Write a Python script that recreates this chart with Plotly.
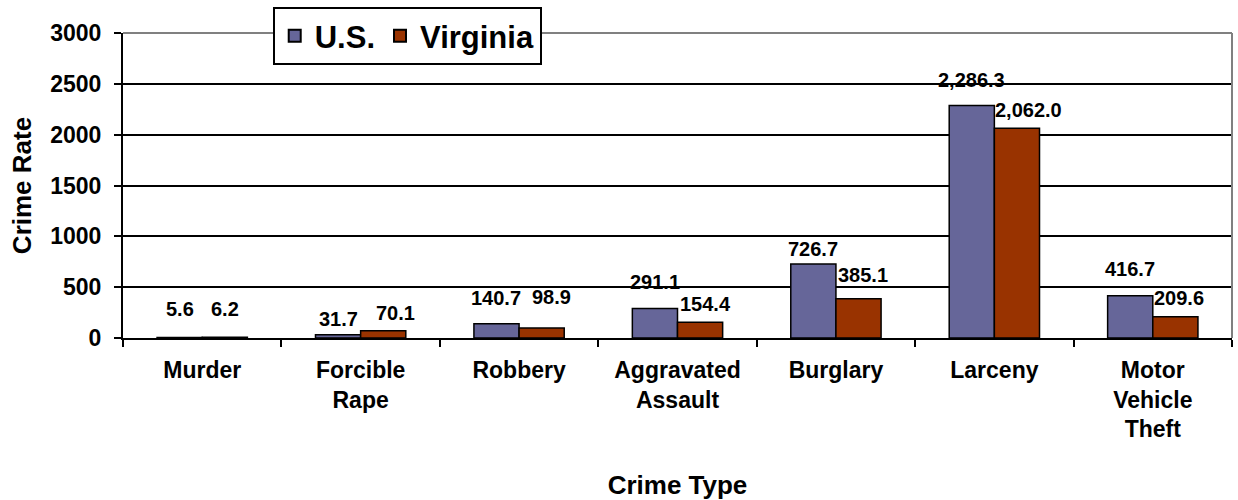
import plotly.graph_objects as go

categories = ["Murder", "Forcible<br>Rape", "Robbery", "Aggravated<br>Assault",
              "Burglary", "Larceny", "Motor<br>Vehicle<br>Theft"]
us_rates = [5.6, 31.7, 140.7, 291.1, 726.7, 2286.3, 416.7]
virginia_rates = [6.2, 70.1, 98.9, 154.4, 385.1, 2062.0, 209.6]
y_ticks = [0, 500, 1000, 1500, 2000, 2500, 3000]

# per-label nudges (pixels) so neighbouring value labels don't collide
us_label_dx = [0, 0, 0, 0, 0, 0, 0]
us_label_dy = [15, 3, 13, 13, 2, 13, 14]
va_label_dx = [0, 12, 10, 5, 4, 12, 4]
va_label_dy = [15, 5, 18, 5, 11, 5, 6]

FONT = "Liberation Sans, Arial, sans-serif"
BOLD_BLACK = dict(family=FONT, color="black", weight="bold")

# plot area geometry (pixels) used to place value labels over each bar
WIDTH, HEIGHT = 1238, 500
M_L, M_R, M_T, M_B = 123, 6, 33, 162
BARGAP = 0.43
cat_px = (WIDTH - M_L - M_R) / len(categories)
bar_px = cat_px * (1 - BARGAP) / 2

fig = go.Figure()
fig.add_trace(go.Bar(
    name="U.S.", x=categories, y=us_rates,
    marker=dict(color="#666699", line=dict(color="black", width=1.5)),
))
fig.add_trace(go.Bar(
    name="Virginia", x=categories, y=virginia_rates,
    marker=dict(color="#993300", line=dict(color="black", width=1.5)),
))

# value labels above each bar
annotations = []
for series, offset, dxs, dys in ((us_rates, -bar_px / 2, us_label_dx, us_label_dy),
                                 (virginia_rates, bar_px / 2, va_label_dx, va_label_dy)):
    for cat, val, dx, dy in zip(categories, series, dxs, dys):
        annotations.append(dict(
            x=cat, y=val, xref="x", yref="y", text=f"{val:,.1f}",
            showarrow=False, xanchor="center", yanchor="bottom",
            xshift=offset + dx, yshift=dy,
            font=dict(BOLD_BLACK, size=20),
        ))

fig.update_layout(
    width=WIDTH, height=HEIGHT,
    margin=dict(l=M_L, r=M_R, t=M_T, b=M_B),
    paper_bgcolor="white", plot_bgcolor="white",
    barmode="group", bargap=BARGAP, bargroupgap=0,
    font=dict(family=FONT, color="black"),
    showlegend=True,
    legend=dict(
        orientation="h", x=0.135, y=1.085, xanchor="left", yanchor="top",
        bgcolor="white", bordercolor="black", borderwidth=2,
        font=dict(BOLD_BLACK, size=31),
        itemsizing="constant", traceorder="normal",
    ),
    xaxis=dict(
        type="category", tickson="boundaries", ticks="outside", ticklen=7,
        tickwidth=2, tickcolor="black", showline=True, linecolor="black",
        linewidth=2, showgrid=False, ticklabelstandoff=10,
        tickfont=dict(BOLD_BLACK, size=23),
        title=dict(text="Crime Type", standoff=35,
                   font=dict(BOLD_BLACK, size=26)),
        automargin=False,
    ),
    yaxis=dict(
        range=[0, 3000], tickvals=y_ticks, ticks="outside", ticklen=7,
        tickwidth=2, tickcolor="black", showline=True, linecolor="black",
        linewidth=2, showgrid=True, gridcolor="black", gridwidth=2,
        zeroline=False, ticklabelstandoff=8,
        tickfont=dict(BOLD_BLACK, size=23),
        title=dict(text="Crime Rate", standoff=11,
                   font=dict(BOLD_BLACK, size=26)),
        automargin=False,
    ),
    annotations=annotations,
    shapes=[
        dict(type="line", xref="paper", yref="paper", x0=0, x1=1, y0=1, y1=1,
             line=dict(color="#808080", width=2), layer="above"),
        dict(type="line", xref="paper", yref="paper", x0=1, x1=1, y0=0, y1=1,
             line=dict(color="#808080", width=2), layer="above"),
    ],
)

fig.write_html("out.html")
